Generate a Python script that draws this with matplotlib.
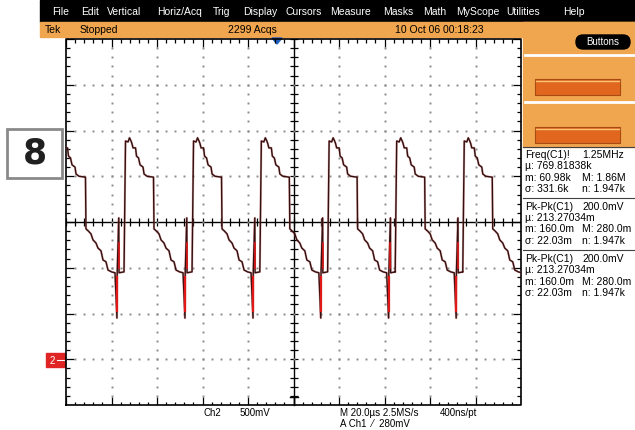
import numpy as np
import matplotlib.pyplot as plt
from matplotlib.patches import Rectangle, FancyBboxPatch, Polygon

# Ch1 trace, one period measured from the rising edge (divisions)
shape_t = [0.0, 0.033, 0.088, 0.121, 0.154, 0.176, 0.198, 0.253, 0.275, 0.319,
           0.352, 0.418, 0.44, 0.505, 0.648, 0.659, 0.714, 0.769, 0.813, 0.879,
           0.923, 0.989, 1.033, 1.099, 1.143, 1.22, 1.297, 1.34, 1.345, 1.38,
           1.385, 1.49]
shape_v = [-1.09, 1.77, 1.75, 1.84, 1.77, 1.71, 1.62, 1.62, 1.44, 1.40,
           1.25, 1.20, 1.05, 1.00, 0.98, -0.15, -0.20, -0.26, -0.39, -0.46,
           -0.57, -0.63, -0.83, -0.87, -1.05, -1.09, -1.11, -2.10, -1.11, 0.09,
           -1.11, -1.09]
rises = [-5.22, -3.725, -2.23, -0.74, 0.75, 2.235, 3.72]
spike_red_dn = [-1.2, -1.95]
spike_red_up = [-0.45, -1.0]

menu = ['File', 'Edit', 'Vertical', 'Horiz/Acq', 'Trig', 'Display', 'Cursors',
        'Measure', 'Masks', 'Math', 'MyScope', 'Utilities', 'Help']
menu_x = [52, 81, 107, 157, 213, 243, 285, 330, 383, 423, 456, 506, 563]

meas_left = ['Freq(C1)!', 'µ: 769.81838k', 'm: 60.98k', 'σ: 331.6k',
             'Pk-Pk(C1)', 'µ: 213.27034m', 'm: 160.0m', 'σ: 22.03m',
             'Pk-Pk(C1)', 'µ: 213.27034m', 'm: 160.0m', 'σ: 22.03m']
meas_right = ['1.25MHz', '', 'M: 1.86M', 'n: 1.947k',
              '200.0mV', '', 'M: 280.0m', 'n: 1.947k',
              '200.0mV', '', 'M: 280.0m', 'n: 1.947k']
meas_y = [155, 166, 178, 189, 207, 218, 229, 241, 259, 270, 282, 293]

orange = '#f0a64e'
font = 'Liberation Sans'

fig = plt.figure(figsize=(6.35, 4.30), dpi=100)
bg = fig.add_axes([0, 0, 1, 1])
bg.set_xlim(0, 635)
bg.set_ylim(430, 0)
bg.axis('off')

# menu + status bars
bg.add_patch(Rectangle((40, 0), 595, 22, color='black'))
bg.add_patch(Rectangle((40, 22), 595, 15, color=orange))
for m, x in zip(menu, menu_x):
  bg.text(x, 12, m, color='white', fontsize=7.5, family=font, va='center')
bg.text(45, 30, 'Tek', fontsize=7.5, family=font, va='center')
bg.text(80, 30, 'Stopped', fontsize=7.5, family=font, va='center')
bg.text(228, 30, '2299 Acqs', fontsize=7.5, family=font, va='center')
bg.text(395, 30, '10 Oct 06 00:18:23', fontsize=7.5, family=font, va='center')

# right button panel
bg.add_patch(Rectangle((523, 22), 112, 125, color=orange))
bg.plot([525, 635], [55, 55], color='white', lw=2)
bg.plot([525, 635], [102, 102], color='white', lw=2)
for by in [79, 127]:
  bg.add_patch(Rectangle((535, by), 85, 16, facecolor='#e2671e',
                         edgecolor='#a84a14', lw=0.8))
  bg.plot([536, 619], [by + 1.5, by + 1.5], color='#f6c27a', lw=1)
bg.add_patch(FancyBboxPatch((576, 35), 54, 14,
                            boxstyle='round,pad=0,rounding_size=7',
                            color='black'))
bg.text(603, 42, 'Buttons', color='white', fontsize=7, family=font,
        ha='center', va='center')

# measurements
for l, r, y in zip(meas_left, meas_right, meas_y):
  bg.text(525, y, l, fontsize=7.5, family=font, va='center')
  bg.text(582, y, r, fontsize=7.5, family=font, va='center')
for y in [147, 198, 250]:
  bg.plot([523, 635], [y, y], color='#404040', lw=0.8)

# bottom readout
bg.text(203, 413, 'Ch2', fontsize=7, family=font, va='center')
bg.text(240, 413, '500mV', fontsize=7, family=font, va='center')
bg.text(340, 413, 'M 20.0µs 2.5MS/s', fontsize=7, family=font, va='center')
bg.text(440, 413, '400ns/pt', fontsize=7, family=font, va='center')
bg.text(340, 424, 'A Ch1  \u2044  280mV', fontsize=7, family=font, va='center')

# figure label
bg.add_patch(Rectangle((7, 129), 55, 49, fill=False, edgecolor='#8a8a8a', lw=2))
bg.text(34.5, 154, '8', fontsize=25, fontweight='bold', ha='center',
        va='center', color='#202020')

# markers
bg.add_patch(Rectangle((46, 353), 19, 14, color='#e02424'))
bg.text(52, 360.5, '2', color='white', fontsize=7, family=font,
        ha='center', va='center')
bg.plot([57, 64], [360, 360], color='white', lw=0.8)
bg.add_patch(Polygon([(272, 38), (282, 38), (277, 44)], color='#1f5fbf'))
bg.plot([290, 298], [397, 397], color='black', lw=1)

# graticule
sc = fig.add_axes([66 / 635, 25 / 430, 455 / 635, 366 / 430])
sc.set_xlim(-5, 5)
sc.set_ylim(-4, 4)
sc.axis('off')
kx = 1 / 45.5
ky = 1 / 45.75

xs = np.round(np.arange(-5, 5.001, 0.2), 2)
ys = np.round(np.arange(-4, 4.001, 0.2), 2)
xlen = np.where(np.isclose(xs, np.round(xs)), 8, 3.5)
ylen = np.where(np.isclose(ys, np.round(ys)), 8, 4)
sc.vlines(xs, 4 - xlen * ky, 4, color='black', lw=0.9)
sc.vlines(xs, -4, -4 + xlen * ky, color='black', lw=0.9)
sc.hlines(ys, -5, -5 + ylen * kx, color='black', lw=0.9)
sc.hlines(ys, 5 - ylen * kx, 5, color='black', lw=0.9)
sc.plot([-5, 5, 5, -5, -5], [-4, -4, 4, 4, -4], color='black', lw=1.2,
        clip_on=False)
sc.axhline(0, color='black', lw=1)
sc.axvline(0, color='black', lw=1)
sc.vlines(xs, -4 * ky, 4 * ky, color='black', lw=0.9)
sc.hlines(ys, -4 * kx, 4 * kx, color='black', lw=0.9)
bg.plot([294, 294], [397, 405], color='black', lw=1)

dx, dy = [], []
for gx in range(-4, 5):
  if gx != 0:
    dx += [gx] * len(ys[1:-1])
    dy += list(ys[1:-1])
for gy in range(-3, 4):
  if gy != 0:
    dx += list(xs[1:-1])
    dy += [gy] * len(xs[1:-1])
sc.plot(dx, dy, ls='none', marker='s', ms=1.4, color='#8c8c8c', mew=0)

# trace
tx = np.concatenate([r + np.array(shape_t) for r in rises])
tv = np.tile(shape_v, len(rises))
sc.plot(tx, tv, color='#c85050', lw=1.6, alpha=0.45)
sc.plot(tx, tv, color='#301010', lw=1.0)
for r in rises:
  sc.plot([r + 1.34, r + 1.34], spike_red_dn, color='#e01818', lw=1.6)
  sc.plot([r + 1.38, r + 1.38], spike_red_up, color='#e01818', lw=1.2)

fig.savefig('out.png', dpi=100)
